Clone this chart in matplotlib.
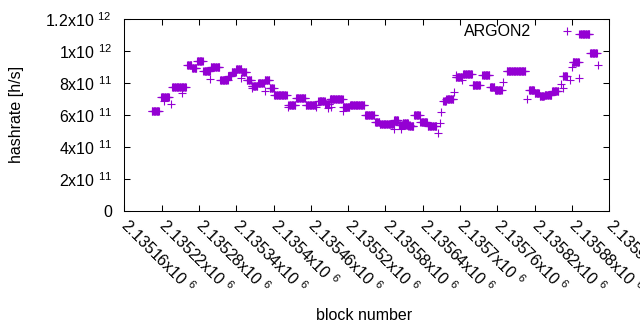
import numpy as np
import matplotlib
matplotlib.use("Agg")
import matplotlib.pyplot as plt

plt.rcParams['font.family'] = ['Liberation Sans', 'DejaVu Sans']
plt.rcParams['mathtext.default'] = 'regular'
plt.rcParams['mathtext.fontset'] = 'custom'
plt.rcParams['mathtext.rm'] = 'Liberation Sans'

# Runs of consecutive blocks sharing the same hashrate (block start, block end, value in h/s)
run_start = [2135204, 2135219, 2135237, 2135261, 2135269, 2135277, 2135287, 2135299, 2135314,
             2135327, 2135333, 2135340, 2135349, 2135357, 2135365, 2135375, 2135386, 2135394,
             2135401, 2135424, 2135436, 2135452, 2135472, 2135483, 2135491, 2135512, 2135523,
             2135547, 2135563, 2135571, 2135594, 2135601, 2135608, 2135617, 2135626, 2135636,
             2135648, 2135673, 2135678, 2135693, 2135705, 2135720, 2135736, 2135748, 2135756,
             2135775, 2135811, 2135820, 2135828, 2135836, 2135848, 2135865, 2135881, 2135892,
             2135909]
run_end = [2135216, 2135232, 2135259, 2135268, 2135276, 2135286, 2135298, 2135313, 2135326,
           2135332, 2135339, 2135348, 2135356, 2135364, 2135374, 2135385, 2135393, 2135400,
           2135421, 2135435, 2135451, 2135469, 2135482, 2135490, 2135511, 2135522, 2135546,
           2135562, 2135570, 2135593, 2135600, 2135619, 2135616, 2135625, 2135635, 2135647,
           2135662, 2135677, 2135689, 2135703, 2135719, 2135732, 2135747, 2135755, 2135767,
           2135805, 2135819, 2135827, 2135835, 2135847, 2135858, 2135872, 2135891, 2135908,
           2135920]
run_value = [6.28e11, 7.14e11, 7.75e11, 9.16e11, 8.94e11, 9.36e11, 8.75e11, 9.04e11, 8.23e11,
             8.44e11, 8.71e11, 8.86e11, 8.72e11, 8.19e11, 7.81e11, 8.02e11, 8.19e11, 7.67e11,
             7.29e11, 6.64e11, 7.06e11, 6.61e11, 6.86e11, 6.67e11, 6.98e11, 6.52e11, 6.61e11,
             5.98e11, 5.56e11, 5.42e11, 5.71e11, 5.375e11, 5.52e11, 5.31e11, 6.04e11, 5.54e11,
             5.31e11, 6.86e11, 7.04e11, 8.39e11, 8.60e11, 7.90e11, 8.54e11, 7.77e11, 7.60e11,
             8.75e11, 7.56e11, 7.36e11, 7.22e11, 7.29e11, 7.50e11, 8.42e11, 9.33e11, 11.10e11,
             9.92e11]

# Single blocks
single_block = [2135224, 2135235, 2135252, 2135298, 2135348, 2135366, 2135387, 2135423,
                2135469, 2135488, 2135492, 2135493, 2135512, 2135593, 2135605, 2135664,
                2135668, 2135670, 2135691, 2135694, 2135703, 2135769, 2135808, 2135862,
                2135865, 2135877, 2135880, 2135892, 2135922]
single_value = [6.875e11, 6.67e11, 7.375e11, 8.29e11, 8.33e11, 7.67e11, 7.5e11, 6.52e11,
                6.52e11, 6.42e11, 7.0e11, 6.52e11, 6.25e11, 5.125e11, 5.125e11, 4.86e11,
                5.48e11, 6.17e11, 7.46e11, 8.5e11, 8.2e11, 8.08e11, 7.0e11, 7.92e11,
                7.67e11, 8.19e11, 9.02e11, 8.33e11, 9.125e11]

xtick_values = [2135160, 2135220, 2135280, 2135340, 2135400, 2135460, 2135520,
                2135580, 2135640, 2135700, 2135760, 2135820, 2135880, 2135940]
xtick_labels = ['2.13516', '2.13522', '2.13528', '2.13534', '2.1354', '2.13546', '2.13552',
                '2.13558', '2.13564', '2.1357', '2.13576', '2.13582', '2.13588', '2.13594']
ytick_values = [0, 2e11, 4e11, 6e11, 8e11, 1e12, 1.2e12]
ytick_labels = ['0', '2x10 $^{11}$', '4x10 $^{11}$', '6x10 $^{11}$', '8x10 $^{11}$',
                '1x10 $^{12}$', '1.2x10 $^{12}$']

blocks = []
values = []
for s, e, v in zip(run_start, run_end, run_value):
    for b in range(s, e + 1):
        blocks.append(b)
        values.append(v)
blocks.extend(single_block)
values.extend(single_value)

FS = 11.5
color = '#9400d3'
fig = plt.figure(figsize=(6.4, 3.3), dpi=100)
ax = fig.add_axes([124.3 / 640, 1 - 211 / 330, 485 / 640, 191.7 / 330])
ax.plot(blocks, values, linestyle='none', marker='+', ms=6, mew=0.8, color=color,
        label='ARGON2')
ax.set_xlim(2135160, 2135940)
ax.set_ylim(0, 1.2e12)
ax.set_xticks(xtick_values)
ax.set_xticklabels([l + 'x10 $^{6}$' for l in xtick_labels])
ax.set_yticks(ytick_values)
ax.set_yticklabels(ytick_labels)
ax.tick_params(direction='in', length=4, width=0.75, top=True, right=True,
               labelsize=FS, colors='black')
ax.tick_params(axis='y', pad=9)
ax.tick_params(axis='x', pad=8)
for lab in ax.get_xticklabels():
    lab.set_rotation(-45)
    lab.set_ha('left')
    lab.set_va('center')
    lab.set_rotation_mode('anchor')
for sp in ax.spines.values():
    sp.set_linewidth(0.75)

ax.legend(loc='center right', bbox_to_anchor=((580.9 - 124.3) / 485, (211 - 32) / 191.7),
          frameon=False, markerfirst=False, handlelength=1.8, handletextpad=1.3,
          borderpad=0, borderaxespad=0, fontsize=FS, numpoints=1)

fig.text(364 / 640, 1 - 315 / 330, 'block number', ha='center', va='center', fontsize=FS)
fig.text(17 / 640, 1 - 114 / 330, 'hashrate [h/s]', ha='center', va='center',
         rotation=90, fontsize=FS)

fig.savefig('out.png', dpi=100)
